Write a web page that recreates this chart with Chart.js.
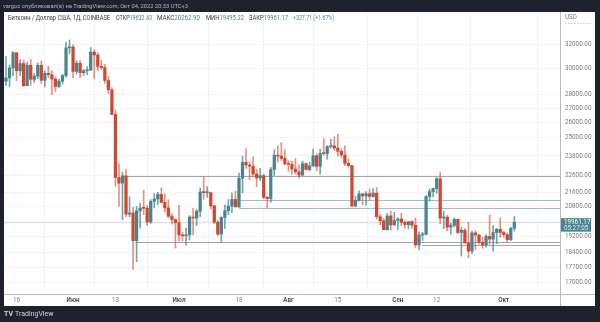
<!DOCTYPE html>
<html><head><meta charset="utf-8">
<script src="https://cdn.jsdelivr.net/npm/chart.js@4"></script>
<style>html,body{margin:0;padding:0;background:#1e222d;overflow:hidden}canvas{display:block}</style>
</head><body>
<canvas id="c" width="600" height="322"></canvas>
<script>
// Daily candles, 13 May 2022 .. 04 Oct 2022 (index 0 .. 144)
const opens = [
29030,29290,30080,31320,29850,30430,28690,30300,29180,29430,30290,29100,29650,29540,29200,28630,29030,29470,31730,
31800,29800,30460,29700,29860,29910,31370,31130,30200,30110,29090,28380,26580,22480,22140,22580,20390,20460,19000,20570,20720,20710,19970,21100,21230,21490,21040,20730,20280,20100,
19930,19290,19250,19300,20230,20180,20550,21620,21590,21590,20850,19960,19330,20210,20580,20830,21200,20790,22430,23400,23240,23160,22690,22450,22590,21320,21250,22960,23850,23790,23650,
23310,23280,22990,22820,22620,23320,22960,23180,23820,23150,23960,23950,24400,24450,24310,24100,23860,23340,23200,20840,21150,21520,21400,21530,21370,21560,20250,20040,19560,20290,19810,
20050,20130,19950,19830,19990,19800,18790,19290,19320,21370,21650,21830,22400,20180,20230,19700,19800,20110,19420,19540,18880,18480,19400,19290,18920,18800,19220,19080,19420,19590,
19420,19310,19050,19632.43];
const highs = [
30990,30330,31420,31330,30780,30700,30540,30770,29620,30470,30650,29830,30210,29850,29370,29200,29570,32220,32400,
31980,30650,30690,29950,30180,31750,31560,31330,30690,30360,29430,28550,26900,23330,22800,22980,21350,20760,20820,21000,21720,20870,21200,21540,21610,21860,21520,21190,20410,20140,
20880,19430,19650,20310,20710,20650,21850,22500,21940,21600,20860,20040,20250,20890,21200,21570,21680,22750,23790,24280,23430,23750,22990,23030,22690,21380,23090,24200,24450,24660,24200,
23500,23460,23650,23230,23470,23360,23400,24240,23930,24230,24920,24460,24890,25050,25210,24250,24450,23620,23200,21380,21690,21520,21650,21810,21820,21880,20380,20150,20420,20560,20480,
20200,20450,20050,20000,20050,20180,19460,19440,21420,21800,21850,22490,22790,20540,20330,19900,20190,20110,19690,19640,19960,19490,19500,19320,19180,19310,20340,19790,19640,20180,
19480,19400,19700,20262.90];
const lows = [
28700,28600,29470,29080,29460,28630,28670,28710,28940,29230,28870,28600,29310,28020,28250,28560,28820,29320,31230,
29300,29590,29320,29480,29530,29880,29220,29850,29960,28870,28100,26560,21950,20820,20080,20250,20250,17600,17970,19640,20360,19780,19900,20730,20900,21010,20500,20190,19850,18630,
18980,18990,18780,19040,19300,19780,20250,21200,21320,20670,19880,19240,18920,19630,20360,20470,20770,20760,21580,23030,22350,22530,21930,22300,21250,20720,21040,22600,23420,23520,23230,
22850,22660,22700,22430,22600,22920,22860,23160,22880,22670,23850,23600,24300,24140,23790,23700,23190,23120,20790,20780,21100,20900,20880,21150,21330,20130,19820,19580,19550,19540,19800,
19570,19770,19650,19600,19640,18660,18540,19020,19300,21100,21350,21560,19880,19620,19500,19330,19700,19370,18240,18910,18150,18360,18560,18820,18620,18680,18820,18480,18850,19170,
19170,18930,19000,19495.32];
const closes = [
29290,30080,31320,29850,30430,28690,30300,29180,29430,30290,29100,29650,29540,29200,28630,29030,29470,31730,31800,
29800,30460,29700,29860,29910,31370,31130,30200,30110,29090,28380,26580,22480,22140,22580,20390,20460,19000,20570,20720,20710,19970,21100,21230,21490,21040,20730,20280,20100,19930,
19290,19250,19300,20230,20180,20550,21620,21590,21590,20850,19960,19330,20210,20580,20830,21200,20790,22430,23400,23240,23160,22690,22450,22590,21320,21250,22960,23850,23790,23650,23310,
23280,22990,22820,22620,23320,22960,23180,23820,23150,23960,23950,24400,24450,24310,24100,23860,23340,23200,20840,21150,21520,21400,21530,21370,21560,20250,20040,19560,20290,19810,20050,
20130,19950,19830,19990,19800,18790,19290,19320,21370,21650,21830,22400,20180,20230,19700,19800,20110,19420,19540,18880,18480,19400,19290,18920,18800,19220,19080,19420,19590,19420,
19310,19050,19630,19961.17];

// x-axis tick labels (candle index -> label)
const xTickIndex = [3, 19, 31, 49, 66, 80, 94, 111, 122, 141];
const xTickLabels = ['16', 'Июн', '13', 'Июл', '18', 'Авг', '15', 'Сен', '12', 'Окт'];
const xTickIsMonth = [false, true, false, true, false, true, false, true, false, true];
// y-axis tick labels (price)
const yTicks = [32000, 30000, 28000, 27000, 26000, 25000, 23800, 22600, 21600, 20800, 19200, 18400, 17700, 17000];
// user drawn horizontal lines: [price, start index, colour]
const hLinePrices = [22580, 18920, 18770, 21170, 20750];
const hLineStart = [32.6, 36.7, 117.8, 66, 66];
const hLineKind = ['gray', 'gray', 'gray', 'blue', 'blue'];
const lastPrice = 19961.17;
const countdown = '05:27:05';

const UP = '#4a858f', DOWN = '#d2472f';
const UPW = 'rgba(74,133,143,0.75)', DOWNW = 'rgba(210,71,47,0.6)';
const FONT = 'Roboto, "Liberation Sans", sans-serif';

const wickData = opens.map((o, i) => ({x: i, y: [lows[i], highs[i]]}));
const bodyData = opens.map((o, i) => ({x: i, y: [o, closes[i]]}));
const bodyCol = opens.map((o, i) => closes[i] >= o ? UP : DOWN);
const wickCol = opens.map((o, i) => closes[i] >= o ? UPW : DOWNW);

const bgPlugin = {
  id: 'bg',
  beforeDraw(chart) {
    const c = chart.ctx;
    c.save();
    c.fillStyle = '#1e222d';
    c.fillRect(0, 0, 600, 322);
    c.fillStyle = '#ffffff';
    c.fillRect(4, 12, 591, 294);
    c.restore();
  },
  beforeDatasetsDraw(chart) {
    const c = chart.ctx, xs = chart.scales.x, ys = chart.scales.y, a = chart.chartArea;
    c.save();
    c.beginPath(); c.rect(a.left, a.top, a.right - a.left, a.bottom - a.top); c.clip();
    // last price line
    const yp = Math.round(ys.getPixelForValue(lastPrice)) + 0.5;
    c.strokeStyle = '#dfe1e6'; c.lineWidth = 1.5;
    c.beginPath(); c.moveTo(a.left, yp); c.lineTo(a.right, yp); c.stroke();
    hLinePrices.forEach((p, k) => {
      const y = Math.round(ys.getPixelForValue(p)) + 0.5;
      const x0 = xs.getPixelForValue(hLineStart[k]);
      c.strokeStyle = hLineKind[k] === 'blue' ? '#9dbbe6' : '#a3a6ae';
      c.lineWidth = 1;
      c.beginPath(); c.moveTo(x0, y); c.lineTo(a.right, y); c.stroke();
    });
    c.restore();
  },
  afterDraw(chart) {
    const c = chart.ctx, ys = chart.scales.y, a = chart.chartArea;
    c.save();
    // frame lines
    c.strokeStyle = '#b8bbc3'; c.lineWidth = 1;
    c.beginPath(); c.moveTo(a.right + 0.5, 12); c.lineTo(a.right + 0.5, 306); c.stroke();
    c.beginPath(); c.moveTo(4, a.bottom + 0.5); c.lineTo(595, a.bottom + 0.5); c.stroke();
    // header
    c.textBaseline = 'middle';
    c.fillStyle = '#b2b5be';
    c.font = '6px ' + FONT;
    c.fillText('vargoz опубликовал(а) на TradingView.com, Окт 04, 2022 20:33 UTC+3', 3, 6, 185);
    // legend
    c.font = '6.3px ' + FONT;
    c.fillStyle = '#363a45';
    c.fillText('Биткоин / Доллар США, 1Д, COINBASE', 8, 18.5, 102);
    const parts = [['ОТКР', opens[144].toFixed(2), 116, 36], ['МАКС', highs[144].toFixed(2), 157, 43], ['МИН', lows[144].toFixed(2), 206, 38], ['ЗАКР', closes[144].toFixed(2), 249, 39]];
    parts.forEach(p => {
      const full = c.measureText(p[0] + p[1]).width;
      const s = Math.min(1, p[3] / full);
      c.save();
      c.translate(p[2], 18.5); c.scale(s, 1);
      c.fillStyle = '#363a45'; c.fillText(p[0], 0, 0);
      const w = c.measureText(p[0]).width;
      c.fillStyle = UP; c.fillText(p[1], w, 0);
      c.restore();
    });
    c.fillStyle = UP;
    c.fillText('+327.71 (+1.67%)', 293, 18.5, 41);
    // USD label
    c.fillStyle = '#787b86';
    c.font = '6.3px ' + FONT;
    c.fillText('USD', 565, 17.5);
    c.strokeStyle = '#c3c6cd'; c.setLineDash([1.5, 1.5]);
    c.beginPath(); c.moveTo(565, 23.5); c.lineTo(591, 23.5); c.stroke();
    c.setLineDash([]);
    // last price box
    const yp = ys.getPixelForValue(lastPrice);
    c.fillStyle = '#4a858f';
    c.fillRect(561, yp - 4, 30, 13.5);
    c.fillStyle = '#ffffff';
    c.font = '6.3px ' + FONT;
    c.fillText(lastPrice.toFixed(2), 564, yp);
    c.fillStyle = '#dfe8ea';
    c.fillText(countdown, 564, yp + 6);
    // footer
    c.fillStyle = '#d1d4dc';
    c.font = 'bold 7px ' + FONT;
    c.fillText('TV', 4, 314);
    c.font = '7px ' + FONT;
    c.fillText('TradingView', 15, 314);
    c.restore();
  }
};

new Chart(document.getElementById('c'), {
  type: 'bar',
  data: {
    datasets: [
      {data: wickData, backgroundColor: wickCol, barThickness: 1, grouped: false, order: 2},
      {data: bodyData, backgroundColor: bodyCol, barThickness: 2.6, grouped: false, minBarLength: 1, order: 1}
    ]
  },
  options: {
    responsive: false, animation: false, devicePixelRatio: 1,
    layout: {padding: {left: 4, top: 12, right: 5, bottom: 16}},
    plugins: {legend: {display: false}, tooltip: {enabled: false}},
    scales: {
      x: {
        type: 'linear', min: -0.567, max: 156.94, offset: false,
        afterFit(s) { s.height = 12; },
        afterBuildTicks(s) { s.ticks = xTickIndex.map(v => ({value: v})); },
        ticks: {
          autoSkip: false, maxRotation: 0, padding: 2.5,
          callback: (v) => { const k = xTickIndex.indexOf(v); return k >= 0 ? xTickLabels[k] : ''; },
          font: (ctx) => { const k = xTickIndex.indexOf(ctx.tick && ctx.tick.value); return {family: FONT, size: 6.3, weight: (k >= 0 && xTickIsMonth[k]) ? 'bold' : 'normal'}; },
          color: (ctx) => { const k = xTickIndex.indexOf(ctx.tick && ctx.tick.value); return (k >= 0 && xTickIsMonth[k]) ? '#50535e' : '#787b86'; }
        },
        grid: {color: '#f2f3f6', drawTicks: false},
        border: {display: false}
      },
      y: {
        type: 'logarithmic', position: 'right', min: 16490, max: 34900,
        afterFit(s) { s.width = 35; },
        afterBuildTicks(s) { s.ticks = yTicks.map(v => ({value: v})); },
        ticks: {
          padding: 5, autoSkip: false,
          callback: (v) => Number(v).toFixed(2),
          font: {family: FONT, size: 6.3}, color: '#787b86'
        },
        grid: {color: '#f2f3f6', drawTicks: false},
        border: {display: false}
      }
    }
  },
  plugins: [bgPlugin]
});
</script>
</body></html>
